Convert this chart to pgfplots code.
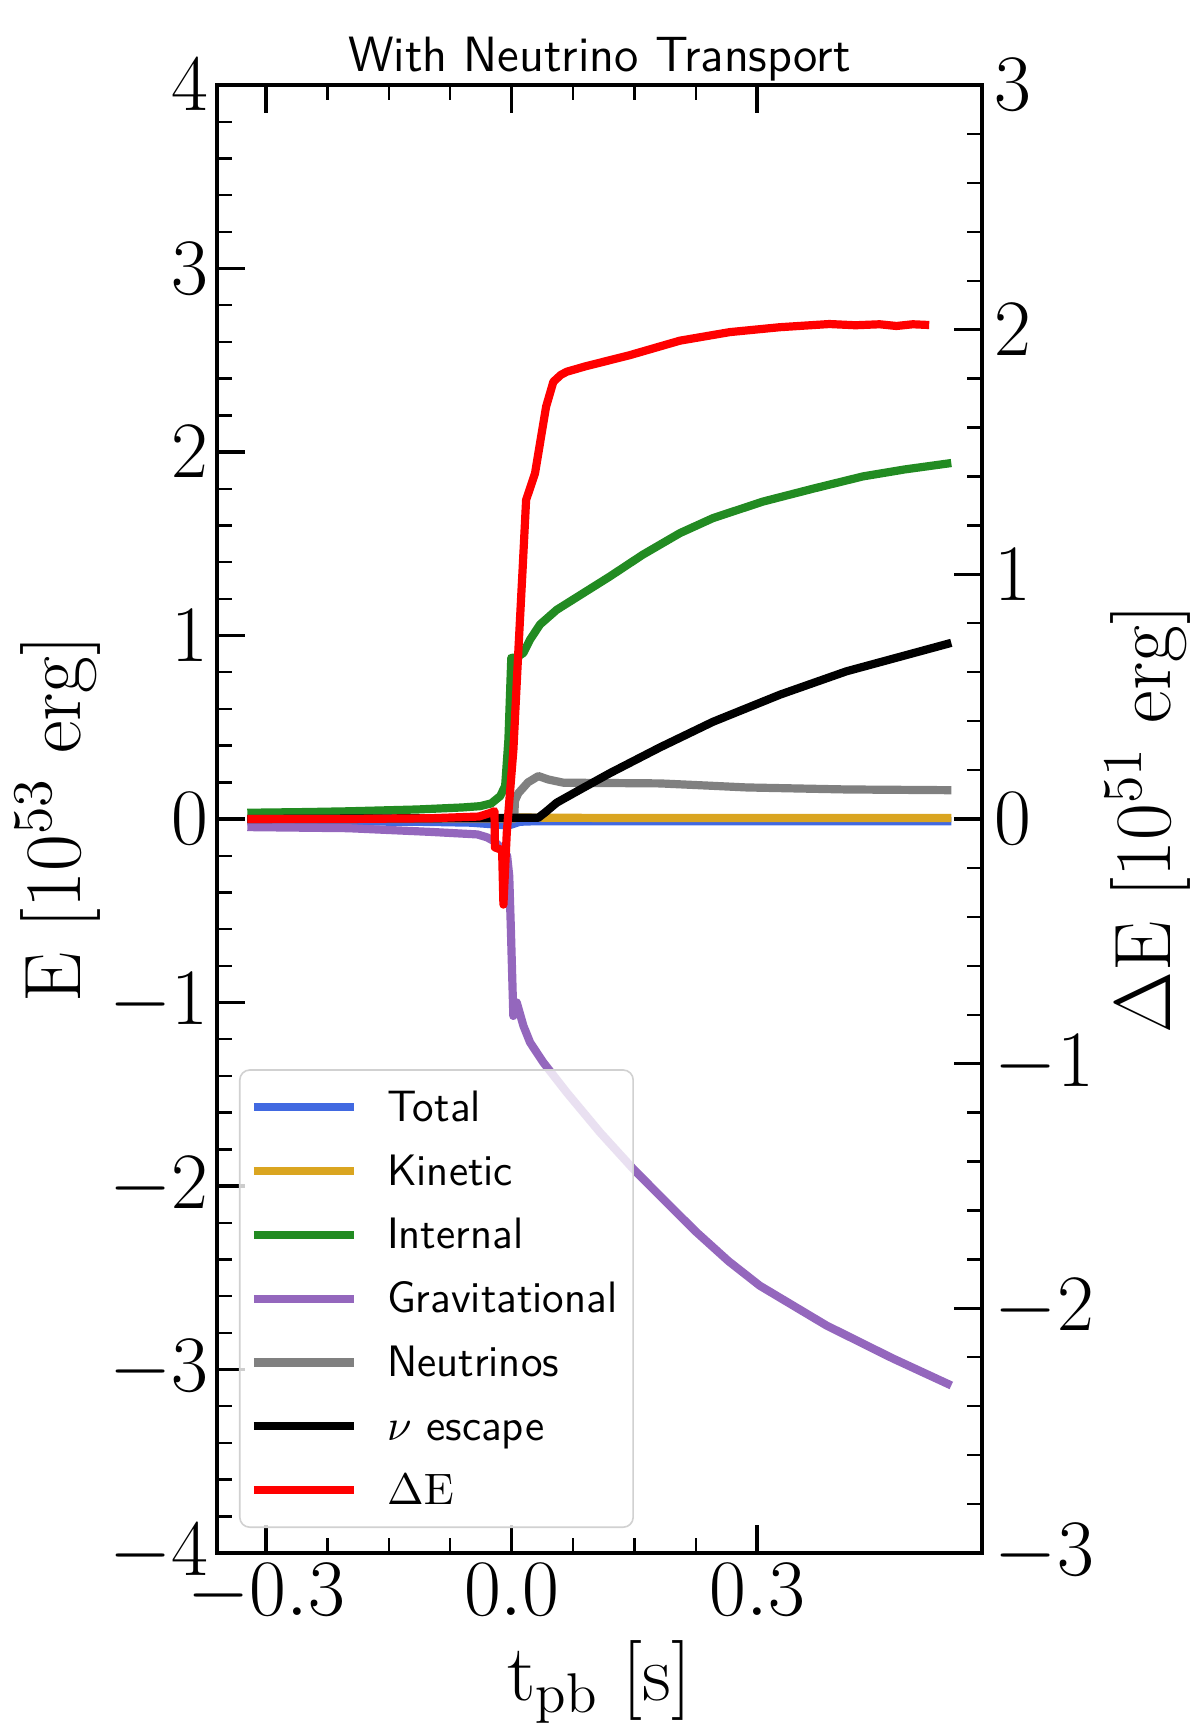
\RequirePackage{fix-cm}
\documentclass[border=0pt]{standalone}
\usepackage{pgfplots}
\pgfplotsset{compat=1.18}
\definecolor{cTotal}{HTML}{4169E1}
\definecolor{cKin}{HTML}{DAA520}
\definecolor{cInt}{HTML}{228B22}
\definecolor{cGrav}{HTML}{9467BD}
\definecolor{cNu}{HTML}{808080}
\pgfplotsset{
  myaxis/.style={
    scale only axis, width=191.25pt, height=367pt,
    xmin=-0.36, xmax=0.5745,
    tick align=inside,
    major tick length=7pt, minor tick length=3.75pt,
    every major tick/.append style={line width=0.9pt, black},
    every minor tick/.append style={line width=0.6pt, black},
    axis line style={line width=0.8pt},
    ticklabel style={font=\fontsize{20}{24}\selectfont},
    label style={font=\fontsize{20}{24}\selectfont},
  },
  curve/.style={line width=2.05pt, line join=round},
}
\begin{document}
\begin{tikzpicture}
\begin{axis}[myaxis,
  ymin=-4, ymax=4, ytick={-4,-3,-2,-1,0,1,2,3,4}, minor y tick num=4,
  xtick={-0.3,0,0.3}, xticklabels={$-0.3$,$0.0$,$0.3$}, minor x tick num=3,
  xtick pos=both, ytick pos=left,
  yticklabel style={anchor=east, inner sep=0pt, xshift=-2pt},
  xticklabel style={anchor=north, inner sep=0pt, yshift=-2.5pt},
  xlabel={$\mathrm{t_{pb}}\ [\mathrm{s}]$},
  ylabel={$\mathrm{E}\ [10^{53}\ \mathrm{erg}]$},
  xlabel style={at={([yshift=-36.75pt]rel axis cs:0.5,0)}, anchor=base, inner sep=0pt},
  ylabel style={at={([xshift=-34pt]rel axis cs:0,0.5)}, anchor=base, inner sep=0pt},
  title={With Neutrino Transport},
  title style={at={(rel axis cs:0.5,1)}, anchor=base, yshift=-2.6pt, inner sep=0pt, font=\sffamily\fontsize{12.4}{14}\selectfont},
  legend style={at={(rel axis cs:0,0)}, anchor=south west, xshift=5.5pt, yshift=6.25pt,
    draw=black!18, rounded corners=2.5pt, fill=white, fill opacity=0.8, text opacity=1, draw opacity=1,
    inner xsep=2.5pt, inner ysep=5.8pt, row sep=8.95pt, column sep=7.3pt,
    font=\sffamily\fontsize{11}{13}\selectfont,
    nodes={inner sep=0pt, text height=0.7em, text depth=0pt, text width=59pt, align=left}},
  legend cell align=left,
  legend image code/.code={\draw[#1, line width=2.05pt] (0pt,0pt) -- (25pt,0pt);},
]
\addplot[cTotal, curve] coordinates {
(-0.323,-0.012) (-0.2,-0.013) (-0.1,-0.016) (-0.05,-0.02) (-0.02,-0.03) (-0.005,-0.035) (0.0,-0.03) (0.01,-0.015) (0.03,-0.012) (0.1,-0.012) (0.3,-0.012) (0.537,-0.012)};
\addlegendentry{Total}
\addplot[cKin, curve] coordinates {
(-0.323,0.0) (-0.1,0.001) (-0.02,0.003) (0.0,0.005) (0.01,0.008) (0.1,0.006) (0.3,0.005) (0.537,0.005)};
\addlegendentry{Kinetic}
\addplot[cInt, curve] coordinates {
(-0.323,0.034) (-0.25,0.038) (-0.2,0.042) (-0.115,0.052) (-0.06,0.063) (-0.0386,0.07) (-0.025,0.085) (-0.014,0.125) (-0.008,0.18) (-0.004,0.433) (-0.0005,0.878) (0.006,0.88) (0.0143,0.905) (0.0225,0.978) (0.0346,1.06) (0.055,1.14) (0.08,1.21) (0.12,1.322) (0.16,1.44) (0.2055,1.558) (0.246,1.64) (0.307,1.73) (0.368,1.80) (0.429,1.867) (0.48,1.905) (0.537,1.94)};
\addlegendentry{Internal}
\addplot[cGrav, curve] coordinates {
(-0.323,-0.044) (-0.2,-0.05) (-0.1,-0.07) (-0.042,-0.084) (-0.03,-0.1) (-0.022,-0.12) (-0.012,-0.16) (-0.0056,-0.2) (-0.003,-0.31) (-0.001,-0.6) (0.002,-1.073) (0.0062,-1.0) (0.0143,-1.127) (0.0225,-1.218) (0.0387,-1.327) (0.0672,-1.49) (0.1079,-1.708) (0.1485,-1.907) (0.189,-2.089) (0.2258,-2.252) (0.265,-2.41) (0.303,-2.543) (0.3845,-2.76) (0.4657,-2.94) (0.537,-3.087)};
\addlegendentry{Gravitational}
\addplot[cNu, curve] coordinates {
(-0.323,0.0) (0.003,0.0) (0.004,0.1) (0.008,0.14) (0.02,0.2) (0.0326,0.234) (0.045,0.215) (0.063,0.198) (0.181,0.194) (0.24,0.182) (0.287,0.172) (0.409,0.161) (0.537,0.157)};
\addlegendentry{Neutrinos}
\addplot[black, curve] coordinates {
(-0.323,0.0) (0.0326,0.007) (0.042,0.04) (0.055,0.089) (0.0835,0.16) (0.12,0.25) (0.181,0.39) (0.246,0.53) (0.328,0.678) (0.409,0.805) (0.537,0.96)};
\addlegendentry{$\nu$ escape}
\addlegendimage{red, curve}
\addlegendentry{$\Delta\mathrm{E}$}
\end{axis}
\begin{axis}[myaxis, hide x axis,
  ymin=-3, ymax=3, ytick={-3,-2,-1,0,1,2,3}, minor y tick num=4,
  ytick pos=right, yticklabel pos=right,
  yticklabel style={anchor=west, inner sep=0pt, xshift=3pt},
  ylabel={$\Delta\mathrm{E}\ [10^{51}\ \mathrm{erg}]$},
  ylabel style={at={([xshift=47.2pt]rel axis cs:1,0.5)}, anchor=base, inner sep=0pt},
]
\addplot[red, curve] coordinates {
(-0.323,0.0) (-0.2,0.0) (-0.1,0.003) (-0.04,0.01) (-0.026,0.025) (-0.021,0.032) (-0.0205,-0.116) (-0.0142,-0.124) (-0.0117,-0.13) (-0.0101,-0.35) (-0.006,-0.056) (0.0021,0.284) (0.0082,0.692) (0.0135,1.032) (0.0176,1.304) (0.0285,1.413) (0.0346,1.536) (0.042,1.685) (0.0509,1.787) (0.06,1.815) (0.0672,1.828) (0.09,1.85) (0.1445,1.896) (0.2055,1.955) (0.2665,1.99) (0.3275,2.01) (0.388,2.023) (0.42,2.018) (0.4495,2.022) (0.47,2.015) (0.49,2.022) (0.51,2.019)};
\end{axis}
\pgfresetboundingbox
\path[use as bounding box] (-54.25pt,-43pt) rectangle (245.75pt,388.25pt);
\end{tikzpicture}
\end{document}
